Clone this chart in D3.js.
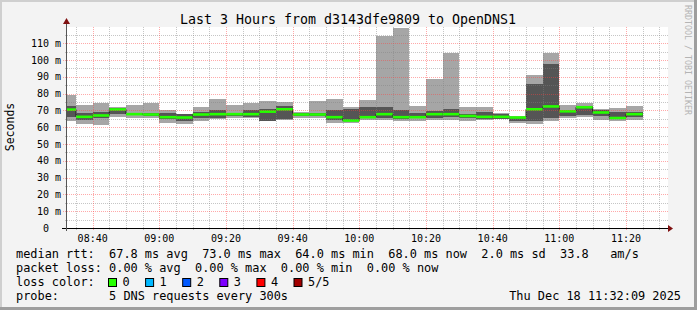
<!DOCTYPE html>
<html>
<head>
<meta charset="utf-8">
<script src="https://cdn.jsdelivr.net/npm/d3@7"></script>
<style>
  body { margin: 0; background: #f3f3f3; }
  text { font-family: "DejaVu Sans Mono", monospace; white-space: pre; }
</style>
</head>
<body>
<script>
// 5 min slots (start time of each step)
var slots = ["08:30","08:35","08:40","08:45","08:50","08:55","09:00","09:05","09:10","09:15",
             "09:20","09:25","09:30","09:35","09:40","09:45","09:50","09:55","10:00","10:05",
             "10:10","10:15","10:20","10:25","10:30","10:35","10:40","10:45","10:50","10:55",
             "11:00","11:05","11:10","11:15","11:20"];
// 5 pings per slot, sorted: min, 2nd, median, 4th, max (ms)
var pingMin = [64,62,61.5,66.3,65.8,65.4,62.4,61.7,63.7,65, 65.5,65.4,63.5,64.5,65.5,65.4,62.7,62.4,64.3,64.3,
               64,64,64.3,64.3,64,64.3,64.7,62.4,61.7,64, 65.4,66.3,64.3,64,64.3];
var pingLo  = [66.3,64.5,65.3,67.7,67,66.5,64.7,63.9,65.4,65.6, 66.8,66.3,64,65,66.5,66.5,64.5,63.5,65.4,65.5,
               64.9,65.5,65.4,66,65.4,65,65.2,63.5,63.7,65.4, 66.5,67,66.5,64.8,66];
var medians = [70.5,66.2,67,70.6,67.8,67.6,66,65.8,67.6,67.8, 67.8,67.8,69.3,70.7,67.6,67.6,66,64,66,67.8,
               66,66,67.8,67.8,66.7,66.2,66.2,65.8,70.7,72.4, 69.5,71.9,68.8,65.5,67.8];
var pingHi  = [72.8,68.2,68.9,71.3,68.6,68.4,68.2,67.6,69.3,70.2, 68.6,70.2,70.8,72.6,68.5,68.6,70.2,70.7,71.8,72.2,
               70.2,68.3,69.8,70.7,68,69.3,68,66.3,85.7,97.6, 70.5,72.8,70.3,69.3,69.3];
var pingMax = [79.2,73.2,74.7,72,73.2,74.4,70.2,68,72.2,76.8, 73.2,74.6,75.4,75,69,75.4,76.8,72.2,76.2,114.5,
               119,72.4,88.7,104.4,72.2,72,68.5,66.8,91,104.4, 73.2,74.6,70.7,71.2,72.6];

var yTicks = [0,10,20,30,40,50,60,70,80,90,100,110];
var xTicks = ["08:40","09:00","09:20","09:40","10:00","10:20","10:40","11:00","11:20"];

var lossLabels = ["0","1","2","3","4","5/5"];
var lossColors = ["#26ff00","#00b8ff","#0059ff","#7e00ff","#ff0000","#a10000"];

var statLines = [
  "median rtt:  67.8 ms avg  73.0 ms max  64.0 ms min  68.0 ms now  2.0 ms sd  33.8   am/s",
  "packet loss: 0.00 % avg  0.00 % max  0.00 % min  0.00 % now"
];
var probeText = "probe:       5 DNS requests every 300s";
var stampText = "Thu Dec 18 11:32:09 2025";
var titleText = "Last 3 Hours from d3143dfe9809 to OpenDNS1";

var W = 697, H = 310;
var parseT = d3.timeParse("%Y-%m-%d %H:%M:%S");
var day = "2025-12-18 ";
var t0 = parseT(day + "08:32:09"), t1 = parseT(day + "11:32:09");

var x = d3.scaleTime().domain([t0, t1]).range([66.5, 666.5]);
var y = d3.scaleLinear().domain([0, 120]).range([228, 26.5]);

var svg = d3.select("body").append("svg")
    .attr("width", W)
    .attr("height", H);

svg.append("rect").attr("width", W).attr("height", H).attr("fill", "#f3f3f3");
// shaded frame
svg.append("rect").attr("x", 0).attr("y", 0).attr("width", W).attr("height", 2).attr("fill", "#cfcfcf");
svg.append("rect").attr("x", 0).attr("y", 0).attr("width", 2).attr("height", H).attr("fill", "#cfcfcf");
svg.append("rect").attr("x", 0).attr("y", H - 3).attr("width", W).attr("height", 3).attr("fill", "#9e9e9e");
svg.append("rect").attr("x", W - 3).attr("y", 0).attr("width", 3).attr("height", H).attr("fill", "#9e9e9e");

// plot canvas
svg.append("rect").attr("x", 67).attr("y", 27).attr("width", 601).attr("height", 201).attr("fill", "#ffffff");

svg.append("clipPath").attr("id", "plotclip")
  .append("rect").attr("x", 67).attr("y", 27).attr("width", 601).attr("height", 201);

var data = slots.map(function (s, i) {
    var start = parseT(day + s + ":00");
    return {start: start, end: d3.timeMinute.offset(start, 5),
            p1: pingMin[i], p2: pingLo[i], med: medians[i], p4: pingHi[i], p5: pingMax[i]};
});

var plot = svg.append("g").attr("clip-path", "url(#plotclip)");

// outer smoke (min..max)
plot.selectAll(".smokeOuter")
    .data(data)
    .enter()
    .append("rect")
    .attr("x", function (d) { return x(d.start); })
    .attr("width", function (d) { return x(d.end) - x(d.start); })
    .attr("y", function (d) { return y(d.p5); })
    .attr("height", function (d) { return y(d.p1) - y(d.p5); })
    .attr("fill", "#a6a6a6")
    .attr("shape-rendering", "crispEdges");

// inner smoke (2nd..4th)
plot.selectAll(".smokeInner")
    .data(data)
    .enter()
    .append("rect")
    .attr("x", function (d) { return x(d.start); })
    .attr("width", function (d) { return x(d.end) - x(d.start); })
    .attr("y", function (d) { return y(d.p4); })
    .attr("height", function (d) { return y(d.p2) - y(d.p4); })
    .attr("fill", "#555555")
    .attr("shape-rendering", "crispEdges");

// grid, drawn over the smoke like rrdtool does
var grid = svg.append("g");
var minorTimes = d3.timeMinute.every(5).range(t0, t1);
grid.selectAll(".vminor")
    .data(minorTimes.filter(function (t) { return t.getMinutes() % 20 != 0; }))
    .enter()
    .append("line")
    .attr("x1", function (d) { return Math.round(x(d)) + 0.5; })
    .attr("x2", function (d) { return Math.round(x(d)) + 0.5; })
    .attr("y1", 27).attr("y2", 230)
    .attr("stroke", "rgba(128,128,128,0.45)")
    .attr("stroke-dasharray", "1,1");

grid.selectAll(".hminor")
    .data(d3.range(5, 120, 10))
    .enter()
    .append("line")
    .attr("x1", 65).attr("x2", 668)
    .attr("y1", function (d) { return Math.round(y(d)) + 0.5; })
    .attr("y2", function (d) { return Math.round(y(d)) + 0.5; })
    .attr("stroke", "rgba(128,128,128,0.45)")
    .attr("stroke-dasharray", "1,1");

grid.selectAll(".vmajor")
    .data(xTicks)
    .enter()
    .append("line")
    .attr("x1", function (d) { return Math.round(x(parseT(day + d + ":00"))) + 0.5; })
    .attr("x2", function (d) { return Math.round(x(parseT(day + d + ":00"))) + 0.5; })
    .attr("y1", 27).attr("y2", 231)
    .attr("stroke", "rgba(255,64,64,0.45)")
    .attr("stroke-dasharray", "1,1");

grid.selectAll(".hmajor")
    .data(yTicks.slice(1))
    .enter()
    .append("line")
    .attr("x1", 63).attr("x2", 668)
    .attr("y1", function (d) { return Math.round(y(d)) + 0.5; })
    .attr("y2", function (d) { return Math.round(y(d)) + 0.5; })
    .attr("stroke", "rgba(255,64,64,0.45)")
    .attr("stroke-dasharray", "1,1");

// median: dark step line + loss coloured segments
var step = d3.line()
    .x(function (d) { return d[0]; })
    .y(function (d) { return d[1]; });
var pts = [];
data.forEach(function (d) {
    pts.push([x(d.start), y(d.med)]);
    pts.push([x(d.end), y(d.med)]);
});
plot.append("path")
    .attr("d", step(pts))
    .attr("fill", "none")
    .attr("stroke", "#202020")
    .attr("stroke-width", 1);

plot.selectAll(".median")
    .data(data)
    .enter()
    .append("line")
    .attr("x1", function (d) { return x(d.start); })
    .attr("x2", function (d) { return x(d.end); })
    .attr("y1", function (d) { return y(d.med); })
    .attr("y2", function (d) { return y(d.med); })
    .attr("stroke", lossColors[0])
    .attr("stroke-width", 2.6);

// axes
svg.append("line").attr("x1", 62).attr("x2", 670).attr("y1", 228.5).attr("y2", 228.5)
    .attr("stroke", "#000").attr("stroke-width", 1);
svg.append("line").attr("x1", 66.5).attr("x2", 66.5).attr("y1", 231).attr("y2", 22)
    .attr("stroke", "#555").attr("stroke-width", 1);
svg.append("path").attr("d", "M668,225 L673,228.5 L668,232 Z").attr("fill", "#7f1010");
svg.append("path").attr("d", "M63,24 L66.5,18 L70,24 Z").attr("fill", "#7f1010");

// y labels
svg.append("g").selectAll("text")
    .data(yTicks)
    .enter()
    .append("text")
    .attr("x", 61)
    .attr("y", function (d) { return y(d) + 3.5; })
    .attr("text-anchor", "end")
    .attr("font-size", "10px")
    .attr("fill", "#000")
    .text(function (d) { return d == 0 ? "0  " : d + " m"; });

// x labels
svg.append("g").selectAll("text")
    .data(xTicks)
    .enter()
    .append("text")
    .attr("x", function (d) { return x(parseT(day + d + ":00")); })
    .attr("y", 241.5)
    .attr("text-anchor", "middle")
    .attr("font-size", "10px")
    .attr("fill", "#000")
    .text(function (d) { return d; });

// title
svg.append("text")
    .attr("x", 348).attr("y", 23.5)
    .attr("text-anchor", "middle")
    .attr("font-size", "13.3px")
    .attr("fill", "#000")
    .text(titleText);

// vertical unit label
svg.append("text")
    .attr("transform", "translate(14,127) rotate(-90)")
    .attr("text-anchor", "middle")
    .attr("font-size", "11.5px")
    .attr("fill", "#000")
    .text("Seconds");

// rrdtool watermark
svg.append("text")
    .attr("transform", "translate(685,5) rotate(90)")
    .attr("font-size", "8.3px")
    .attr("fill", "#b4b4b4")
    .text("RRDTOOL / TOBI OETIKER");

// legend
svg.append("g").selectAll("text")
    .data(statLines)
    .enter()
    .append("text")
    .attr("x", 16)
    .attr("y", function (d, i) { return 258 + i * 14; })
    .attr("font-size", "11.9px")
    .attr("fill", "#000")
    .text(function (d) { return d; });

svg.append("text").attr("x", 16).attr("y", 286).attr("font-size", "11.9px").text("loss color:");

var lossG = svg.append("g").selectAll("g")
    .data(lossLabels)
    .enter()
    .append("g")
    .attr("transform", function (d, i) { return "translate(" + (108.5 + i * 37.1) + ",278.5)"; });
lossG.append("rect")
    .attr("width", 8).attr("height", 8)
    .attr("fill", function (d, i) { return lossColors[i]; })
    .attr("stroke", "#000").attr("stroke-width", 1);
lossG.append("text")
    .attr("x", 14).attr("y", 7.5)
    .attr("font-size", "11.9px")
    .text(function (d) { return d; });

svg.append("text").attr("x", 16).attr("y", 300).attr("font-size", "11.9px").text(probeText);
svg.append("text").attr("x", 681).attr("y", 300).attr("text-anchor", "end")
    .attr("font-size", "11.9px").text(stampText);
</script>
</body>
</html>
